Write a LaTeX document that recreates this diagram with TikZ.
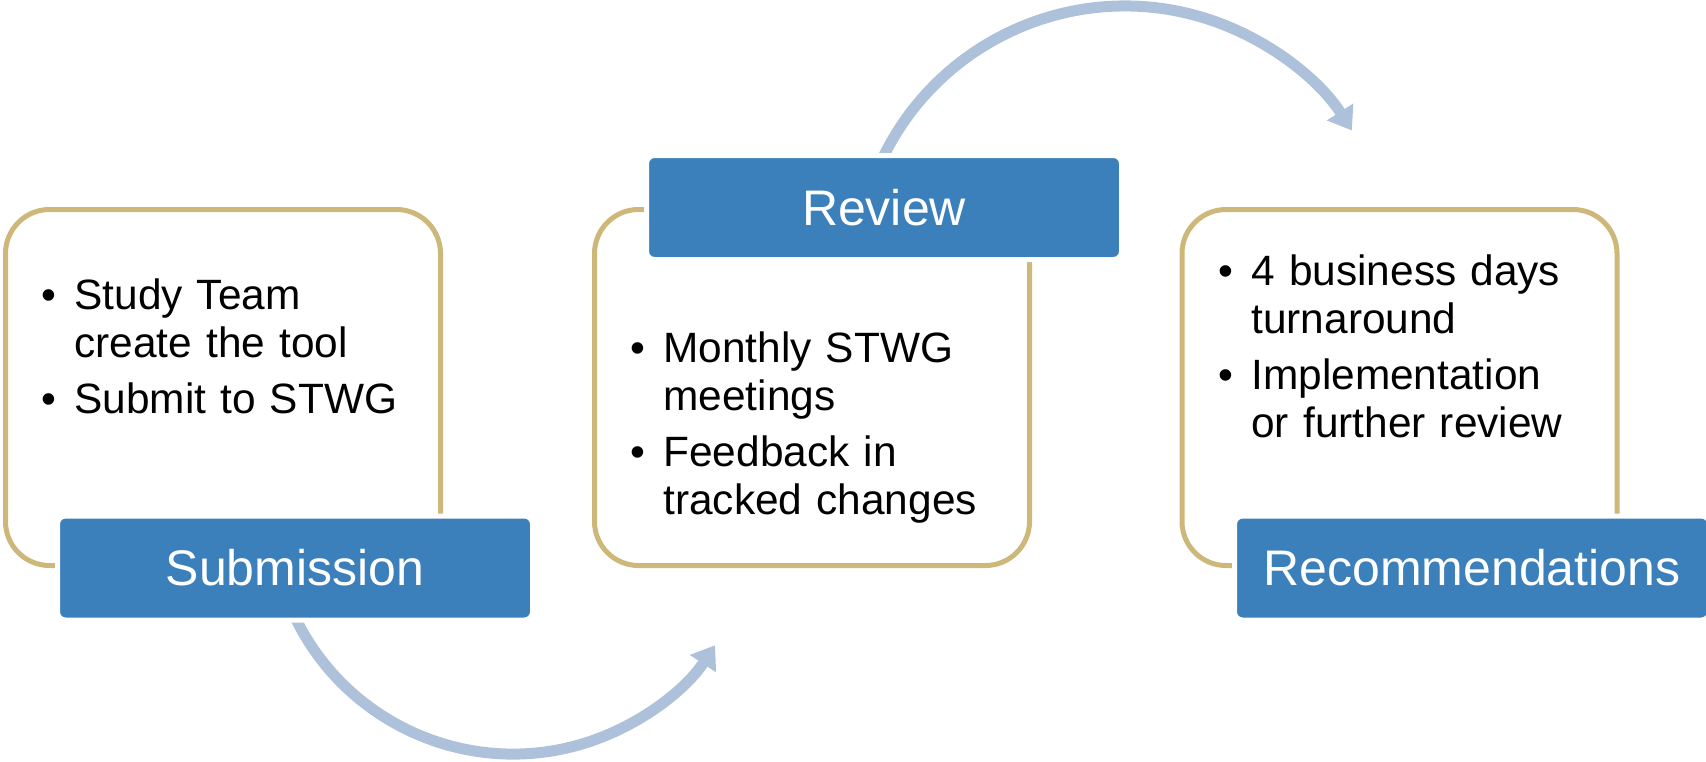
\documentclass[tikz,border=0pt]{standalone}
\usepackage{fontspec}
\setmainfont{Liberation Sans}
\usetikzlibrary{arrows.meta}

\definecolor{stepgold}{HTML}{CDB87A}
\definecolor{stepblue}{HTML}{3B80BA}
\definecolor{flowblue}{HTML}{AEC1DA}

\newcommand{\stepitem}[1]{\noindent\hangindent=16.5pt\hangafter=1%
    \makebox[16.5pt][l]{\textbullet}#1\par\vspace{4pt}}

\tikzset{
    stepframe/.style={draw=stepgold, line width=2.5pt, rounded corners=22pt,
        minimum width=217.5pt, minimum height=178pt, inner sep=0pt},
    stephead/.style={fill=stepblue, draw=white, line width=2.5pt, rounded corners=4pt,
        minimum width=237.5pt, minimum height=52pt, inner sep=0pt,
        text=white, font=\fontsize{25}{30}\selectfont},
    steplist/.style={anchor=base west, inner sep=0pt, text width=195pt, align=left,
        font=\fontsize{21.2}{24}\selectfont},
    flowarrow/.style={draw=flowblue, line width=5.5pt,
        -{Triangle[length=11pt, width=15pt]}}
}

\begin{document}
\begin{tikzpicture}[x=0.5pt, y=-0.5pt]
        \useasboundingbox (0, 0) rectangle (1706, 761);

        % curved arrows between the steps
        \coordinate (subArc) at (285.6, 594.8);
        \coordinate (revArc) at (872.2, 183);
        \draw [flowarrow] (subArc) arc [start angle=160, end angle=33.4, radius=242];
        \draw [flowarrow] (revArc) arc [start angle=-160, end angle=-32.5, radius=269];

        % frames
        \node (subFrame) at (223, 387.5) [stepframe] {};
        \node (revFrame) at (812, 387.5) [stepframe] {};
        \node (recFrame) at (1399.5, 387.5) [stepframe] {};

        % headings
        \node (subHead) at (295, 568) [stephead] {Submission};
        \node (revHead) at (884, 207.5) [stephead] {Review};
        \node (recHead) at (1472, 568) [stephead] {Recommendations};

        % bullet lists
        \node (subList) at (41, 309) [steplist]
            {\stepitem{Study Team\newline create the tool}\stepitem{Submit to STWG}};
        \node (revList) at (630, 362) [steplist]
            {\stepitem{Monthly STWG\newline meetings}\stepitem{Feedback in\newline tracked changes}};
        \node (recList) at (1218, 285) [steplist]
            {\stepitem{4 business days\newline turnaround}\stepitem{Implementation\newline or further review}};
    \end{tikzpicture}
\end{document}
